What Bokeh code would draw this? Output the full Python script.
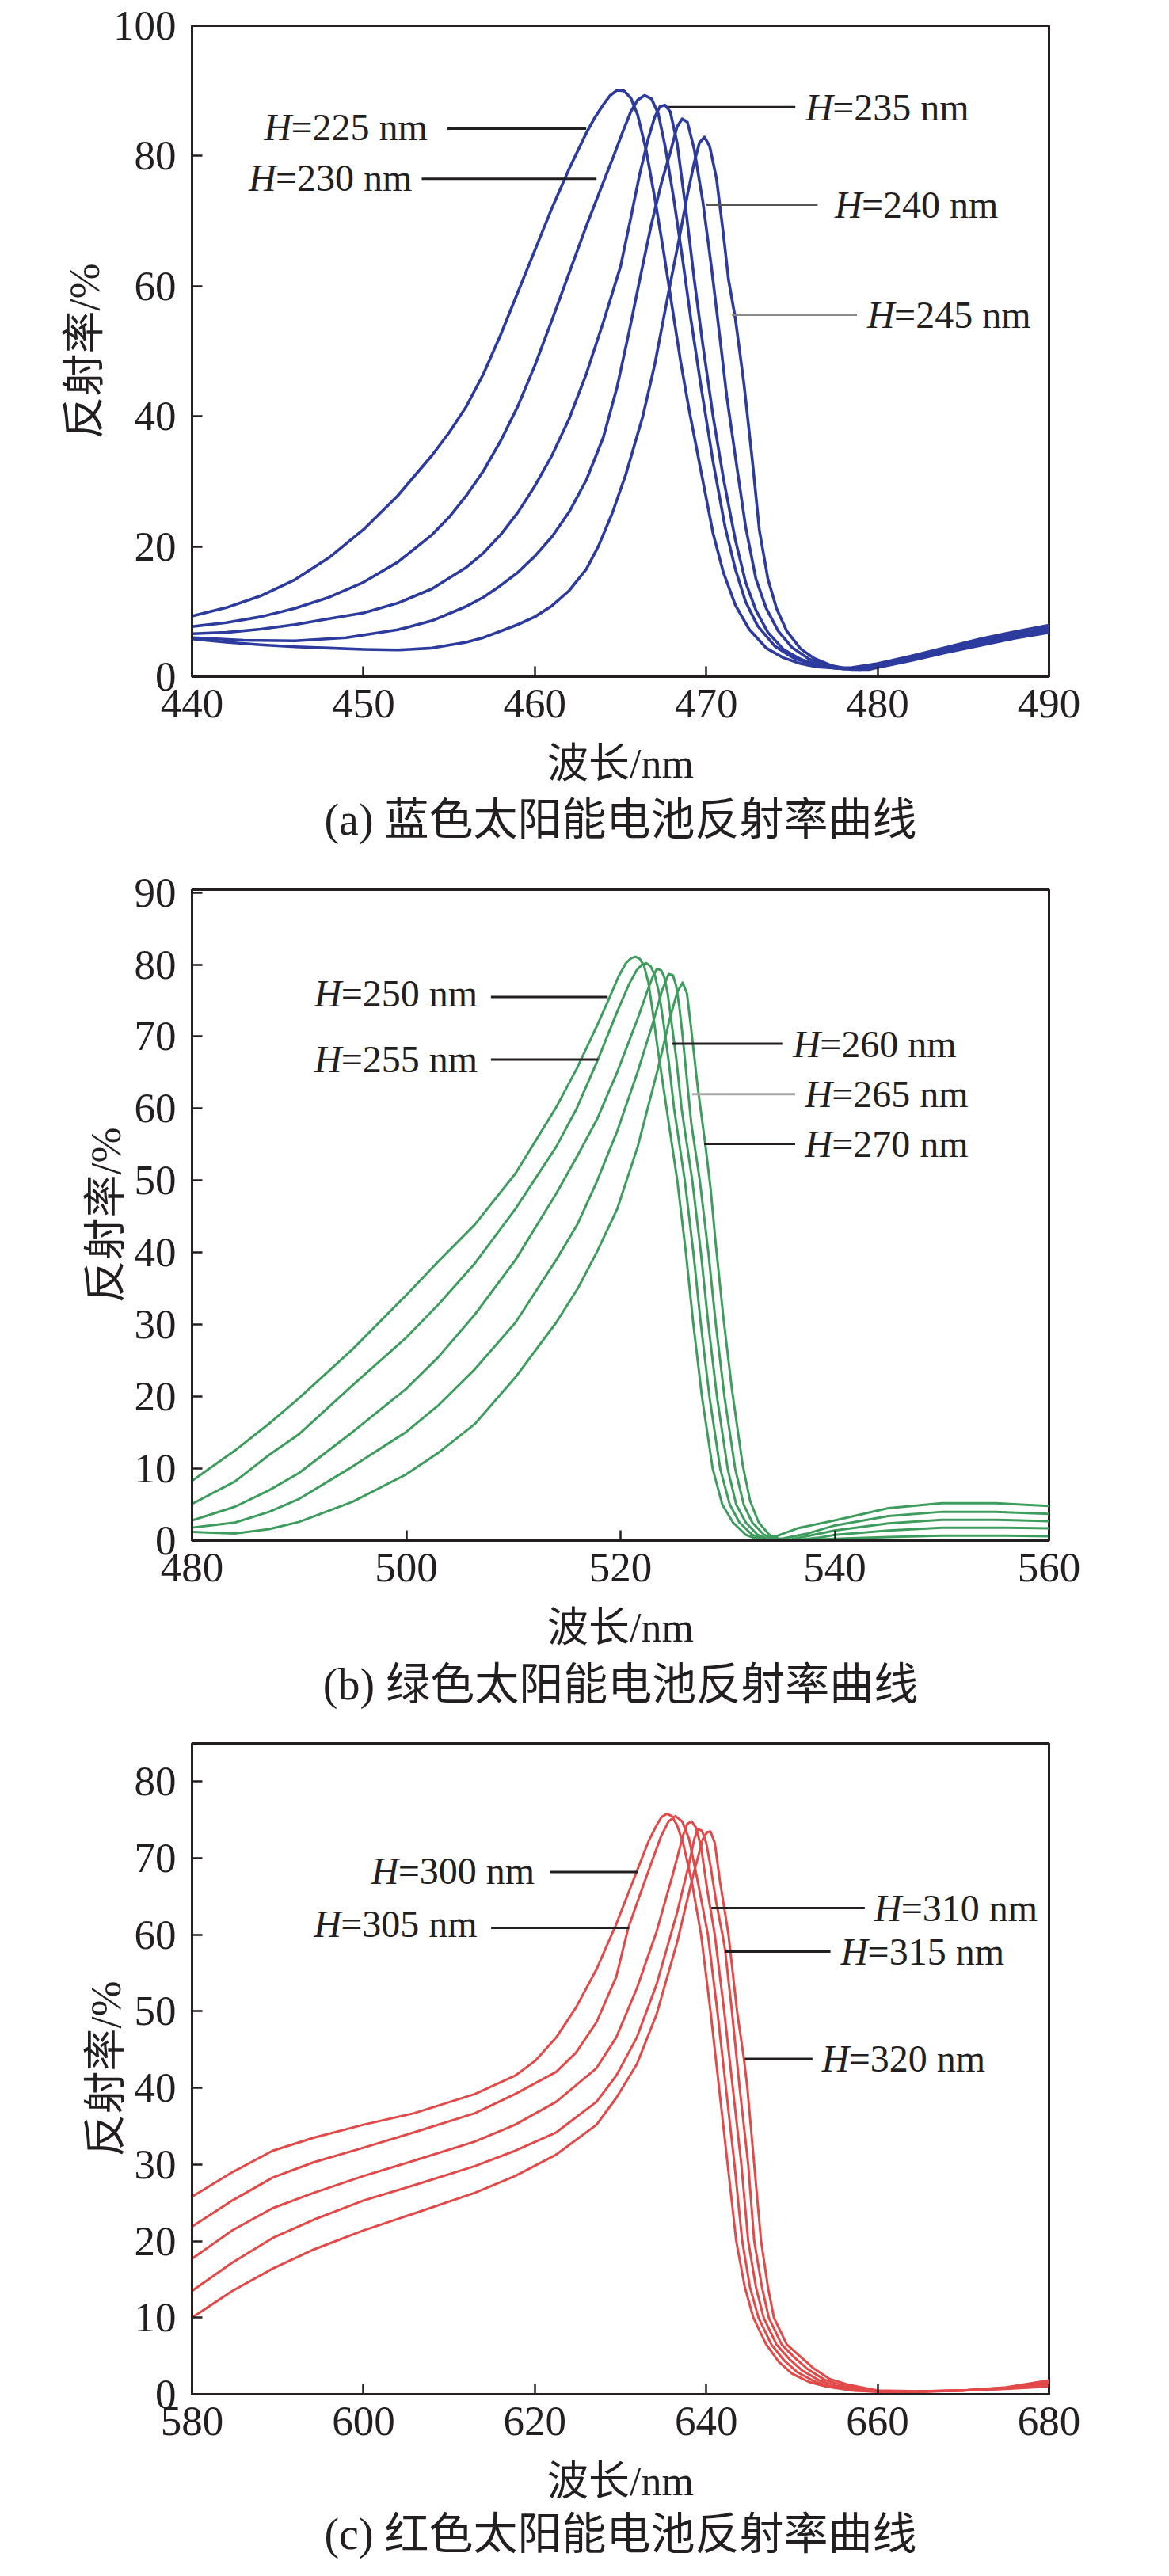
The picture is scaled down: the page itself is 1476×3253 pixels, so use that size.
from bokeh.plotting import figure
from bokeh.layouts import column
from bokeh.models import FixedTicker, Range1d
from bokeh.core.properties import value
from bokeh.embed import file_html
from bokeh.resources import INLINE

# ---------------- Panel (a): blue cell ----------------
blue_ticks_x = [440, 450, 460, 470, 480, 490]
blue_ticks_y = [0, 20, 40, 60, 80, 100]
blue_names = ["=225 nm", "=230 nm", "=235 nm", "=240 nm", "=245 nm"]

blue_225_wl = [440, 442, 444, 446, 448, 450, 452, 454, 455, 456, 457, 458, 459, 460, 461, 462, 463, 463.5, 464, 464.4, 464.8, 465.2, 465.6, 466, 466.5, 467, 467.5, 468, 468.5, 469, 469.7, 470.4, 471, 471.7, 472.5, 473.5, 474.5, 475.5, 476.5, 477.5, 478.5, 480, 482, 484, 486, 488, 490]
blue_225_R = [9.3, 10.6, 12.4, 14.9, 18.3, 22.6, 27.8, 34.0, 37.5, 41.5, 46.5, 52.5, 59, 65.5, 72, 78, 83.5, 85.9, 87.9, 89.3, 90.1, 90.0, 88.9, 86.3, 80.8, 73.5, 65.5, 57, 48.5, 41, 31.5, 22, 16, 11, 7.3, 4.4, 2.9, 2.0, 1.5, 1.3, 1.4, 2.0, 3.2, 4.5, 5.8, 6.9, 7.9]

blue_230_wl = [440, 442, 444, 446, 448, 450, 452, 454, 455, 456, 457, 458, 459, 460, 461, 462, 463, 464, 464.6, 465.1, 465.6, 466.0, 466.4, 466.8, 467.2, 467.6, 468.1, 468.6, 469.1, 469.7, 470.4, 471.1, 471.7, 472.3, 473, 474, 475, 476, 477, 478, 479, 480, 482, 484, 486, 488, 490]
blue_230_R = [7.7, 8.3, 9.2, 10.5, 12.2, 14.5, 17.6, 21.8, 24.5, 27.8, 31.6, 36.2, 41.5, 47.8, 54.8, 62.0, 69.2, 76.0, 80.0, 83.5, 86.8, 88.6, 89.3, 88.8, 86.5, 81.5, 73.5, 64.5, 55, 44.5, 33, 23, 16.5, 11.5, 7.8, 4.7, 3.0, 2.0, 1.5, 1.2, 1.4, 1.9, 3.0, 4.3, 5.5, 6.6, 7.6]

blue_235_wl = [440, 442, 444, 446, 448, 450, 452, 454, 456, 457, 458, 459, 460, 461, 462, 463, 464, 465, 465.6, 466.1, 466.6, 467.0, 467.3, 467.6, 467.9, 468.3, 468.8, 469.3, 469.8, 470.4, 471, 471.7, 472.3, 472.9, 473.6, 474.5, 475.5, 476.5, 477.5, 478.5, 479.5, 480, 482, 484, 486, 488, 490]
blue_235_R = [6.6, 6.8, 7.3, 8.0, 8.9, 9.8, 11.3, 13.5, 16.8, 19.0, 21.8, 25.2, 29.3, 34.0, 39.6, 46.5, 54.5, 63.0, 70.5, 77, 82.5, 86, 87.6, 87.8, 86.8, 82, 72, 61, 51, 40, 30.5, 21, 14.5, 10.2, 6.8, 4.2, 2.7, 1.8, 1.3, 1.2, 1.3, 1.8, 2.9, 4.1, 5.3, 6.4, 7.4]

blue_240_wl = [440, 443, 446, 449, 452, 454, 456, 457, 458, 459, 460, 461, 462, 463, 464, 464.8, 465.5, 466.2, 466.8, 467.4, 467.9, 468.3, 468.6, 468.9, 469.3, 469.8, 470.3, 470.8, 471.2, 471.8, 472.3, 472.9, 473.5, 474.2, 475, 476, 477, 478, 479, 480, 482, 484, 486, 488, 490]
blue_240_R = [6.0, 5.6, 5.5, 6.0, 7.2, 8.6, 10.8, 12.2, 14.0, 16.0, 18.5, 21.5, 25.3, 30.2, 36.8, 44.5, 53, 62, 69.5, 76, 80.5, 84.5, 85.7, 85.2, 81, 73, 63, 52, 43, 32, 23, 15, 10.5, 7, 4.5, 2.7, 1.7, 1.2, 1.1, 1.6, 2.7, 3.9, 5.0, 6.1, 7.1]

blue_245_wl = [440, 442, 444, 446, 448, 450, 452, 454, 456, 457, 458, 459, 460, 461, 462, 463, 463.7, 464.5, 465.3, 466.3, 467, 467.8, 468.4, 468.9, 469.3, 469.6, 469.9, 470.2, 470.6, 471, 471.3, 471.7, 472.2, 472.7, 473.1, 473.6, 474.1, 474.7, 475.5, 476.3, 477.3, 478.5, 479.5, 480, 482, 484, 486, 488, 490]
blue_245_R = [5.8, 5.3, 4.9, 4.6, 4.4, 4.2, 4.1, 4.4, 5.3, 6.0, 7.0, 8.0, 9.2, 10.9, 13.2, 16.5, 20, 25, 31, 40, 48, 59, 67, 74, 79, 82, 82.9, 81.5, 76.5, 68, 61, 55, 45, 33, 22.5, 15, 10.5, 7, 4.3, 2.8, 1.7, 1.1, 1.1, 1.4, 2.5, 3.7, 4.8, 5.9, 6.8]

# ---------------- Panel (b): green cell ----------------
green_ticks_x = [480, 500, 520, 540, 560]
green_ticks_y = [0, 10, 20, 30, 40, 50, 60, 70, 80, 90]
green_names = ["=250 nm", "=255 nm", "=260 nm", "=265 nm", "=270 nm"]

green_250_wl = [480, 484, 487.4, 490, 495, 500, 503, 506.4, 510.2, 514, 515.9, 517.8, 519, 519.8, 520.5, 521.0, 521.4, 521.8, 522.2, 522.6, 523.0, 523.5, 524.3, 525.3, 526.1, 526.8, 527.6, 528.6, 529.5, 530.5, 531.7, 533.0, 534.5, 536.5, 540, 545, 550, 555, 560]
green_250_R = [8.3, 12.5, 16.5, 19.8, 26.6, 34.1, 38.8, 43.9, 51.0, 60.2, 65.5, 71.5, 75.5, 78.3, 80.2, 80.9, 81.1, 80.8, 79.8, 77.5, 73.5, 68, 60, 50, 40, 30, 20, 10, 5, 2.5, 0.8, 0.1, 0.6, 1.7, 2.8, 4.5, 5.2, 5.2, 4.8]

green_255_wl = [480, 484, 487.2, 490, 495, 500, 503, 506.4, 510.2, 514, 515.9, 517.8, 519.7, 520.8, 521.5, 522.0, 522.4, 522.8, 523.2, 523.6, 524.0, 524.5, 525.0, 526.0, 526.8, 527.5, 528.3, 529.3, 530.2, 531.1, 532.3, 533.5, 535.2, 537.5, 540, 545, 550, 555, 560]
green_255_R = [5.1, 8.2, 11.9, 14.8, 21.6, 28.2, 32.8, 38.5, 46.1, 54.7, 60.0, 66.5, 73.5, 77.3, 79.2, 80.0, 80.2, 79.8, 78.5, 76, 72, 66.5, 60, 50, 40, 30, 20, 10, 5, 2.5, 0.8, 0.1, 0.3, 1.0, 2.1, 3.4, 4.0, 4.0, 3.7]

green_260_wl = [480, 484, 487.2, 490, 495, 500, 503, 506.4, 510.2, 514, 516, 517.8, 519.7, 521.6, 522.5, 523.0, 523.4, 523.8, 524.1, 524.4, 524.8, 525.2, 525.7, 526.7, 527.5, 528.2, 529.0, 530.0, 530.8, 531.7, 532.8, 534.0, 536, 538, 540, 545, 550, 555, 560]
green_260_R = [2.8, 4.7, 7.0, 9.4, 15.1, 21.1, 25.5, 31.4, 39.0, 48.2, 53.5, 58.5, 65.1, 72.5, 76.3, 78.3, 79.4, 79.2, 78.2, 76, 71.5, 67, 60, 50, 40, 30, 20, 10, 5, 2.5, 0.8, 0.1, 0.2, 0.8, 1.4, 2.4, 2.9, 2.9, 2.7]

green_265_wl = [480, 484, 487.2, 490, 495, 500, 503, 506.4, 510.2, 514, 516, 517.8, 519.7, 521.6, 523.0, 523.9, 524.5, 524.9, 525.2, 525.5, 525.8, 526.2, 526.6, 527.4, 528.2, 528.9, 529.7, 530.7, 531.5, 532.3, 533.4, 534.5, 536.5, 538.5, 540, 545, 550, 555, 560]
green_265_R = [1.8, 2.5, 4.0, 5.8, 10.3, 15.1, 18.8, 23.8, 30.3, 39.0, 44.0, 49.9, 56.9, 65.1, 71.8, 76.5, 78.7, 78.5, 77, 74, 70, 64, 58, 50, 40, 30, 20, 10, 5, 2.5, 0.8, 0.1, 0.1, 0.4, 0.8, 1.4, 1.8, 1.8, 1.7]

green_270_wl = [480, 484, 487.2, 490, 495, 500, 503, 506.4, 510.2, 514, 516, 517.8, 519.7, 521.6, 523.5, 524.6, 525.3, 525.8, 526.2, 526.6, 527.2, 527.9, 528.4, 528.9, 529.6, 530.4, 531.4, 532.1, 532.9, 533.9, 535.0, 537, 539, 541, 545, 550, 555, 560]
green_270_R = [1.2, 1.0, 1.6, 2.6, 5.4, 9.2, 12.2, 16.2, 22.7, 30.3, 35.0, 40.1, 46.1, 54.7, 65.6, 72.5, 76.2, 77.5, 76, 71, 63, 55.2, 49, 41, 31, 21, 10.5, 5.5, 2.5, 0.8, 0.1, 0.1, 0.2, 0.3, 0.5, 0.7, 0.7, 0.6]

# ---------------- Panel (c): red cell ----------------
red_ticks_x = [580, 600, 620, 640, 660, 680]
red_ticks_y = [0, 10, 20, 30, 40, 50, 60, 70, 80]
red_names = ["=300 nm", "=305 nm", "=310 nm", "=315 nm", "=320 nm"]

red_300_wl = [580, 584.7, 589.4, 594.2, 600, 605.9, 613, 617.7, 620.1, 622.5, 624.8, 627.2, 629.5, 631.9, 633.3, 634.2, 634.8, 635.4, 636.0, 636.6, 637.3, 638.3, 639.4, 640.5, 641.5, 642.5, 643.5, 644.5, 645.5, 647, 648.5, 650, 652, 654, 657, 660, 665, 670, 675, 680]
red_300_R = [25.8, 29.0, 31.8, 33.5, 35.2, 36.7, 39.2, 41.6, 43.6, 46.6, 50.5, 55.5, 61.4, 68.3, 72.3, 74.3, 75.4, 75.8, 75.5, 74.3, 72, 67, 60, 50, 40, 30, 20, 14, 10, 6.5, 4.2, 2.7, 1.6, 1.0, 0.5, 0.3, 0.3, 0.5, 0.9, 1.8]

red_305_wl = [580, 584.7, 589.4, 594.2, 600, 605.9, 613, 617.7, 622.5, 624.8, 627.2, 629.5, 630.9, 632.8, 634.7, 635.6, 636.4, 637.2, 638.0, 639.0, 640.2, 641.3, 642.3, 643.3, 644.2, 645.1, 646.1, 647.6, 649.1, 650.6, 652.6, 654.6, 657.5, 660, 665, 670, 675, 680]
red_305_R = [21.9, 25.3, 28.3, 30.3, 32.2, 34.2, 36.7, 39.2, 42.1, 44.6, 48.6, 54.5, 60.9, 66.9, 72.8, 74.8, 75.5, 74.8, 72.5, 67, 60, 50, 40, 30, 20, 14, 10, 6.5, 4.4, 2.9, 1.7, 1.0, 0.5, 0.35, 0.35, 0.5, 0.85, 1.6]

red_310_wl = [580, 584.7, 589.4, 594.2, 600, 605.9, 613, 617.7, 622.5, 627.2, 629.5, 631.9, 634.2, 636.1, 637.3, 637.8, 638.3, 638.8, 639.4, 640.1, 641.0, 642.1, 643.1, 644.1, 644.9, 645.8, 646.7, 648.2, 649.7, 651.2, 653.2, 655.2, 658, 660, 665, 670, 675, 680]
red_310_R = [17.7, 21.4, 24.3, 26.3, 28.5, 30.5, 33.0, 35.2, 38.2, 42.6, 46.6, 53.0, 60.4, 67.9, 73.0, 74.5, 74.8, 74.0, 71.5, 66, 60, 50, 40, 30, 20, 14, 10, 6.5, 4.6, 3.1, 1.8, 1.1, 0.55, 0.4, 0.4, 0.5, 0.8, 1.4]

red_315_wl = [580, 584.7, 589.4, 594.2, 600, 605.9, 613, 617.7, 622.5, 627.2, 629.5, 631.9, 634.2, 636.6, 638.0, 638.6, 639.0, 639.5, 640.0, 640.5, 641.2, 641.9, 642.2, 643.0, 643.9, 644.9, 645.6, 646.5, 647.3, 648.8, 650.3, 651.8, 653.8, 655.8, 658.5, 660, 665, 670, 675, 680]
red_315_R = [13.5, 17.2, 20.4, 22.8, 25.3, 27.3, 29.8, 31.8, 34.2, 38.2, 41.6, 46.6, 53.5, 62.9, 69.3, 72.5, 73.8, 73.6, 72, 69, 64, 60, 58, 50, 40, 30, 20, 14, 10, 6.5, 4.8, 3.3, 1.9, 1.2, 0.6, 0.45, 0.4, 0.5, 0.75, 1.2]

red_320_wl = [580, 584.7, 589.4, 594.2, 600, 605.9, 613, 617.7, 622.5, 627.2, 629.5, 631.9, 634.2, 636.6, 638.5, 639.6, 640.1, 640.5, 641.0, 641.6, 642.6, 643.6, 644.4, 644.8, 645.6, 646.4, 647.2, 647.9, 649.4, 650.9, 652.4, 654.4, 656.4, 659, 660, 665, 670, 675, 680]
red_320_R = [10.0, 13.5, 16.4, 18.9, 21.4, 23.6, 26.3, 28.5, 31.3, 35.2, 38.7, 43.1, 49.6, 59.0, 67.9, 72.5, 73.4, 73.5, 72, 67, 60, 50, 43.8, 40, 30, 20, 14, 10, 6.5, 5.0, 3.5, 2.0, 1.3, 0.7, 0.5, 0.4, 0.5, 0.7, 1.0]

# ---------------- styling ----------------
INK = "#231f20"
SERIF = "Liberation Serif"
MIXED = "Liberation Serif, Noto Sans CJK SC"
FIG_W = 1450
LEFT, RIGHT, TOP, BOTTOM = 242, 126, 32, 66
PLOT_H = TOP + 822 + BOTTOM


def make_panel(xr, yr, xt, yt):
    p = figure(width=FIG_W, height=PLOT_H, output_backend="svg", toolbar_location=None,
               x_range=Range1d(*xr), y_range=Range1d(*yr),
               min_border_left=LEFT, min_border_right=RIGHT, min_border_top=TOP,
               min_border_bottom=BOTTOM)
    p.title.visible = False
    p.background_fill_color = "white"
    p.border_fill_color = "white"
    p.outline_line_color = INK
    p.outline_line_width = 3
    p.xgrid.visible = False
    p.ygrid.visible = False
    p.xaxis.ticker = FixedTicker(ticks=xt)
    p.yaxis.ticker = FixedTicker(ticks=yt)
    for ax in (p.xaxis[0], p.yaxis[0]):
        ax.axis_line_color = INK
        ax.axis_line_width = 3
        ax.major_tick_in = 13
        ax.major_tick_out = 0
        ax.major_tick_line_color = INK
        ax.major_tick_line_width = 2.5
        ax.minor_tick_line_color = None
        ax.major_label_text_font = SERIF
        ax.major_label_text_font_size = "53px"
        ax.major_label_text_color = INK
        ax.axis_label_text_font = MIXED
        ax.axis_label_text_font_size = "54px"
        ax.axis_label_text_font_style = "normal"
        ax.axis_label_text_color = INK
    p.yaxis.axis_label = "反射率/%"
    p.xaxis.major_label_standoff = 16
    p.yaxis.major_label_standoff = 20
    p.yaxis.axis_label_standoff = 3
    return p


def make_caption(xr, top, bottom, axis_y, cap_y, caption):
    # strip under each panel: x-axis title and panel caption, same horizontal frame as the panel,
    # vertical range in page pixels (top -> bottom)
    c = figure(width=FIG_W, height=bottom - top, output_backend="svg", toolbar_location=None,
               x_range=Range1d(*xr), y_range=Range1d(bottom, top),
               x_axis_type=None, y_axis_type=None,
               min_border_left=LEFT, min_border_right=RIGHT, min_border_top=0, min_border_bottom=0)
    c.title.visible = False
    c.outline_line_color = None
    c.xgrid.visible = False
    c.ygrid.visible = False
    c.background_fill_color = "white"
    c.border_fill_color = "white"
    mid = (xr[0] + xr[1]) / 2
    c.text(x=[mid], y=[axis_y], text=["波长/nm"], text_font=value(MIXED), text_font_size="52px",
           text_color=INK, text_align="center", text_baseline="middle")
    c.text(x=[mid], y=[cap_y], text=[caption], text_font=value(MIXED), text_font_size="56px",
           text_color=INK, text_align="center", text_baseline="middle")
    return c


def annotate(p, names, tx, ty, lx0, lx1, ly, lcolors):
    p.segment(x0=lx0, y0=ly, x1=lx1, y1=ly, line_color=lcolors, line_width=3)
    p.text(x=tx, y=ty, text=["H"] * len(names), text_font=value(SERIF), text_font_style="italic",
           text_font_size="48px", text_color=INK, text_baseline="middle", text_align="left")
    p.text(x=tx, y=ty, text=names, x_offset=34, text_font=value(SERIF), text_font_style="normal",
           text_font_size="48px", text_color=INK, text_baseline="middle", text_align="left")


# Panel (a): page y 8 .. 928, strip 928 .. 1099
pa = make_panel((440, 490), (0, 100), blue_ticks_x, blue_ticks_y)
BLUE = "#2c3b9d"
for wl, r in [(blue_225_wl, blue_225_R), (blue_230_wl, blue_230_R), (blue_235_wl, blue_235_R),
              (blue_240_wl, blue_240_R), (blue_245_wl, blue_245_R)]:
    pa.line(wl, r, line_color=BLUE, line_width=3.6, line_join="round")
annotate(pa, blue_names,
         [444.2, 443.3, 475.8, 477.5, 479.4], [84.4, 76.6, 87.5, 72.5, 55.6],
         [454.9, 453.4, 467.8, 470.0, 471.5], [463.0, 463.6, 475.2, 476.5, 478.8],
         [84.2, 76.5, 87.5, 72.5, 55.6],
         [INK, INK, INK, "#555555", "#8a8a8a"])
ca = make_caption((440, 490), 928, 1099, 972, 1042, "(a) 蓝色太阳能电池反射率曲线")

# Panel (b): page y 1099 .. 2019, strip 2019 .. 2177
pb = make_panel((480, 560), (0, 90.4), green_ticks_x, green_ticks_y)
GREEN = "#3e9d5e"
for wl, r in [(green_250_wl, green_250_R), (green_255_wl, green_255_R), (green_260_wl, green_260_R),
              (green_265_wl, green_265_R), (green_270_wl, green_270_R)]:
    pb.line(wl, r, line_color=GREEN, line_width=3, line_join="round")
annotate(pb, green_names,
         [491.4, 491.4, 536.1, 537.2, 537.2], [76.0, 66.9, 69.0, 62.0, 55.1],
         [507.9, 507.9, 524.8, 526.7, 527.8], [518.8, 517.9, 535.1, 536.3, 536.3],
         [75.5, 66.8, 69.0, 62.0, 55.1],
         [INK, INK, INK, "#aaaaaa", INK])
cb = make_caption((480, 560), 2019, 2177, 2063, 2134, "(b) 绿色太阳能电池反射率曲线")

# Panel (c): page y 2177 .. 3097, strip 3097 .. 3245
pc = make_panel((580, 680), (0, 85), red_ticks_x, red_ticks_y)
RED = "#e24a4a"
for wl, r in [(red_300_wl, red_300_R), (red_305_wl, red_305_R), (red_310_wl, red_310_R),
              (red_315_wl, red_315_R), (red_320_wl, red_320_R)]:
    pc.line(wl, r, line_color=RED, line_width=3, line_join="round")
annotate(pc, red_names,
         [600.9, 594.2, 659.6, 655.7, 653.5], [68.4, 61.4, 63.5, 57.8, 43.8],
         [621.8, 614.9, 640.6, 642.2, 644.5], [632.0, 631.0, 658.5, 654.5, 652.4],
         [68.2, 60.9, 63.5, 57.8, 43.8],
         [INK, INK, INK, INK, INK])
cc = make_caption((580, 680), 3097, 3245, 3141, 3207, "(c) 红色太阳能电池反射率曲线")

layout = column(pa, ca, pb, cb, pc, cc, spacing=0)
open("out.html", "w").write(file_html(layout, INLINE))
